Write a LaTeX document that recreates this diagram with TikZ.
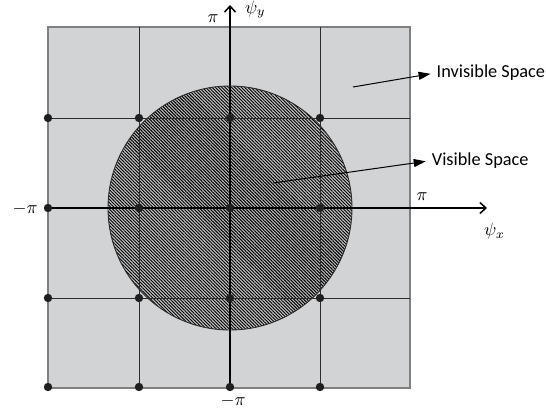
\documentclass[tikz,border=0pt]{standalone}
\usepackage{fontspec}
\newfontfamily\labelfont{Carlito}
\usetikzlibrary{patterns.meta,arrows.meta}
\definecolor{bggray}{RGB}{209,211,212}
\definecolor{hatchbg}{RGB}{190,190,190}
\definecolor{gridcol}{RGB}{45,45,45}
\definecolor{bordercol}{RGB}{128,128,128}
\newcommand{\axlabmath}[1]{\scalebox{1.8}{$#1$}}
\tikzset{
  gridline/.style={draw=gridcol,line width=1pt},
  borderline/.style={draw=bordercol,line width=1.4pt},
  axisline/.style={draw=black,line width=1.5pt,-{Straight Barb[length=6pt,width=11pt]}},
  dotnode/.style={circle,fill=black!88,inner sep=0pt,minimum size=8.4pt},
  mathlabel/.style={inner sep=0pt},
  spacelabel/.style={inner sep=0pt,anchor=west,font=\labelfont\fontsize{18.3}{20}\selectfont},
  pointer/.style={draw=black,line width=1pt,shorten >=6pt,-{Triangle[length=12pt,width=8pt]}},
}
\begin{document}
\begin{tikzpicture}[x=1pt,y=-1pt]
\useasboundingbox (0,0) rectangle (546,412);
% background square
\fill[bggray] (48,27) rectangle (410,388);
% visible region
\fill[hatchbg] (230,208) circle[radius=122];
\fill[pattern={Lines[angle=-45,distance=2.3pt,line width=0.95pt]},pattern color=black]
  (230,208) circle[radius=122];
\draw[draw=gridcol,line width=0.9pt] (230,208) circle[radius=122];
% border
\draw[borderline] (48,27) rectangle (410,388);
% grid lines
\draw[gridline] (139,27) -- (139,388);
\draw[gridline] (320,27) -- (320,388);
\draw[gridline] (48,118) -- (410,118);
\draw[gridline] (48,298) -- (410,298);
% axes
\coordinate (xs) at (48,208);
\coordinate (xe) at (487,208);
\coordinate (ys) at (230,388);
\coordinate (ye) at (230,5);
\draw[axisline] (xs) -- (xe);
\draw[axisline] (ys) -- (ye);
% dots
\foreach \i/\x in {1/48,2/139,3/230,4/320}{
  \foreach \j/\y in {1/118,2/208,3/298,4/387}{
    \node[dotnode] (d\i\j) at (\x,\y) {};
  }
}
% axis labels
\node[mathlabel] (piTop) at (213,18.8) {\axlabmath{\pi}};
\node[mathlabel,anchor=base west] (psiY) at (245,13.2) {\axlabmath{\psi_y}};
\node[mathlabel,anchor=base] (piRight) at (422,200) {\axlabmath{\pi}};
\node[mathlabel,anchor=base west] (psiX) at (484,235.5) {\axlabmath{\psi_x}};
\node[mathlabel] (piLeft) at (25,208.6) {\axlabmath{-\pi}};
\node[mathlabel] (piBottom) at (233,401) {\axlabmath{-\pi}};
% region labels
\node[spacelabel] (inv) at (436.5,72.8) {Invisible Space};
\node[spacelabel] (vis) at (431.7,160.5) {Visible Space};
\coordinate (invStart) at (353,87);
\coordinate (visStart) at (273,183);
\draw[pointer] (invStart) -- (inv.west);
\draw[pointer] (visStart) -- (vis.west);
\end{tikzpicture}
\end{document}
